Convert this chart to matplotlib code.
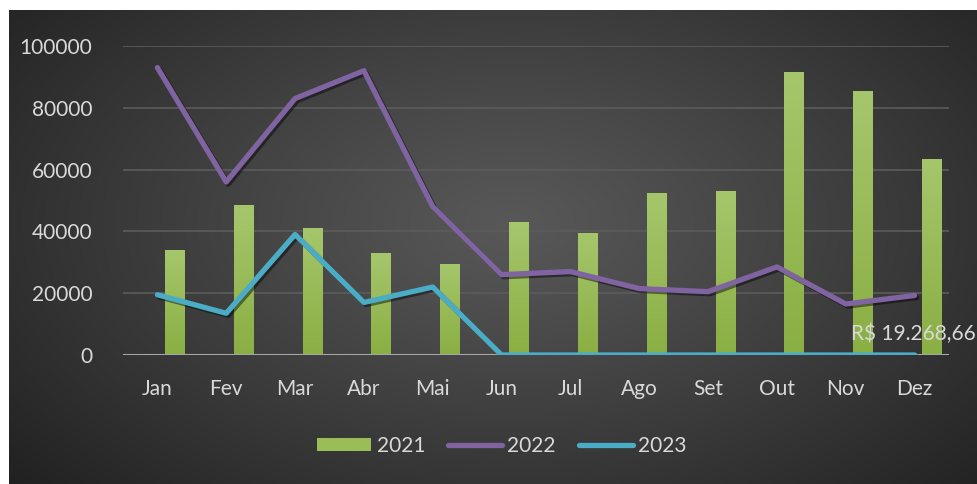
import numpy as np
import matplotlib.pyplot as plt
import matplotlib.patheffects as pe
from matplotlib.patches import Rectangle
from matplotlib.lines import Line2D

plt.rcParams['font.family'] = ['Lato', 'DejaVu Sans']

months = ['Jan', 'Fev', 'Mar', 'Abr', 'Mai', 'Jun', 'Jul', 'Ago', 'Set', 'Out', 'Nov', 'Dez']
vals_2021 = [34000, 48500, 41000, 33000, 29500, 43000, 39500, 52500, 53000, 91500, 85500, 63500]
vals_2022 = [93000, 56000, 83000, 92000, 48000, 26000, 27000, 21500, 20500, 28500, 16500, 19268.66]
vals_2023 = [19500, 13500, 39000, 17000, 22000, 0, 0, 0, 0, 0, 0, 0]
yticks = [0, 20000, 40000, 60000, 80000, 100000]
label_text = 'R$ 19.268,66'

W, H = 978, 484
fig = plt.figure(figsize=(W / 100, H / 100), dpi=100)
fig.patch.set_facecolor('white')

# dark radial gradient background
bg = fig.add_axes([9 / W, 0, 1 - 9 / W, 1 - 10 / H])
bg.set_axis_off()
yy, xx = np.mgrid[0:1:300j, 0:1:600j]
r = np.sqrt(((xx - 0.52) / 0.75) ** 2 + ((yy - 0.55) / 0.9) ** 2)
r = np.clip(r / r.max(), 0, 1)
c0 = np.array([0x58, 0x58, 0x58]) / 255
c1 = np.array([0x21, 0x21, 0x21]) / 255
img = c0 + (c1 - c0) * r[..., None] ** 1.1
bg.imshow(img, extent=[0, 1, 0, 1], aspect='auto', origin='lower')
bg.set_xlim(0, 1)
bg.set_ylim(0, 1)

ax = fig.add_axes([123 / W, (H - 355) / H, (949 - 123) / W, (355 - 46) / H])
ax.set_facecolor('none')
ax.set_xlim(-0.5, 11.5)
ax.set_ylim(0, 100000)
x = np.arange(len(months))

for t in yticks[1:]:
    ax.axhline(t, color='#5c5c5c', lw=1.2, zorder=1)

# bars with vertical gradient
grad = np.linspace(0, 1, 100)[:, None]
green_top = np.array([0xa6, 0xc6, 0x6c]) / 255
green_bot = np.array([0x8a, 0xaf, 0x43]) / 255
gimg = green_bot + (green_top - green_bot) * grad[..., None]
bw = 0.28
for xi, v in zip(x, vals_2021):
    rect = Rectangle((xi + 0.25 - bw / 2, 0), bw, v, facecolor='none', edgecolor='none', zorder=2)
    ax.add_patch(rect)
    im = ax.imshow(gimg, extent=[xi + 0.25 - bw / 2, xi + 0.25 + bw / 2, 0, v],
                   aspect='auto', origin='lower', zorder=2)
    im.set_clip_path(rect)

ax.axhline(0, color='#a6a6a6', lw=1.5, zorder=3)

shadow = [pe.SimpleLineShadow(offset=(1.5, -1.5), shadow_color='black', alpha=0.45), pe.Normal()]
ax.plot(x, vals_2022, color='#8064a2', lw=3.8, solid_capstyle='round', solid_joinstyle='round',
        zorder=5, path_effects=shadow)
ax.plot(x, vals_2023, color='#4bacc6', lw=3.8, solid_capstyle='round', solid_joinstyle='round',
        zorder=4, path_effects=shadow)

ax.text(11.5 + 27 / 68.8, vals_2022[-1] - 12500, label_text, color='#d9d9d9', fontsize=15,
        ha='right', va='center', zorder=6)

ax.set_xticks(x)
ax.set_xticklabels(months)
ax.set_yticks(yticks)
ax.tick_params(axis='both', length=0, colors='#d9d9d9', labelsize=15)
ax.tick_params(axis='x', pad=17)
ax.tick_params(axis='y', pad=22)
for s in ax.spines.values():
    s.set_visible(False)

handles = [
    Rectangle((0, 0), 1, 1, facecolor='#9bbd58', edgecolor='none'),
    Line2D([0], [0], color='#8064a2', lw=3.8, solid_capstyle='round'),
    Line2D([0], [0], color='#4bacc6', lw=3.8, solid_capstyle='round'),
]
leg = fig.legend(handles, ['2021', '2022', '2023'], loc='center', bbox_to_anchor=(502 / W, (H - 446) / H),
                 ncol=3, frameon=False, fontsize=15, handlelength=2.6, handleheight=0.6,
                 handletextpad=0.25, columnspacing=1.1)
for t in leg.get_texts():
    t.set_color('#d9d9d9')

fig.savefig('out.png', dpi=100)
